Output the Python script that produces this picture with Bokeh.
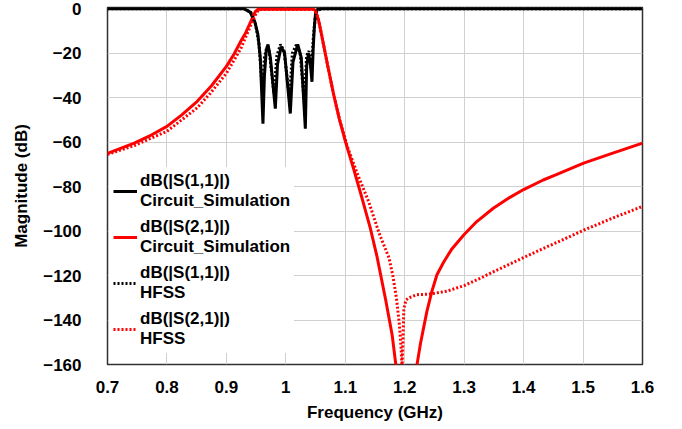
from bokeh.plotting import figure
from bokeh.models import Legend, LegendItem, Range1d, FixedTicker
from bokeh.embed import file_html
from bokeh.resources import INLINE

# ---- data (GHz, dB) ----
s11_circ_f = [0.70, 0.93, 0.940, 0.948, 0.953, 0.957, 0.9615, 0.964, 0.967, 0.970, 0.974,
              0.9823, 0.986, 0.992, 0.998, 1.0075, 1.012, 1.020, 1.026, 1.0328, 1.035,
              1.038, 1.041, 1.044, 1.046, 1.048, 1.050, 1.053, 1.06, 1.60]
s11_circ_db = [0.0, 0.0, -1.5, -6.0, -11.5, -22.0, -51.7, -30.0, -19.0, -16.0, -22.0,
               -44.9, -25.0, -17.0, -20.0, -47.1, -24.0, -16.0, -22.0, -53.9, -26.0,
               -20.0, -24.0, -32.8, -18.0, -8.0, -2.0, -0.3, 0.0, 0.0]

s21_circ_f = [0.70, 0.745, 0.77, 0.80, 0.825, 0.851, 0.875, 0.90, 0.913, 0.924, 0.933,
              0.941, 0.945, 0.949, 0.953,
              1.047, 1.050, 1.055, 1.060, 1.070, 1.080, 1.090, 1.100, 1.114, 1.128,
              1.142, 1.153, 1.168, 1.179, 1.185, 1.19, 1.205, 1.216, 1.2207,
              1.2263, 1.2318, 1.2374, 1.2458, 1.2542, 1.2654, 1.2793, 1.300, 1.3212,
              1.349, 1.377, 1.400, 1.433, 1.455, 1.501, 1.550, 1.600]
s21_circ_db = [-65.0, -60.4, -57.3, -52.9, -47.7, -41.6, -34.6, -25.9, -20.3, -14.7, -10.5,
               -5.7, -3.3, -1.1, -0.2,
               -0.2, -1.0, -5.0, -11.5, -25.0, -38.0, -49.5, -59.5, -72.0, -85.0,
               -98.5, -111.0, -131.0, -147.0, -160.0, -172.0, -190.0, -172.0, -160.0,
               -150.9, -143.4, -136.0, -127.0, -119.6, -114.0, -108.0, -101.5, -95.7,
               -89.7, -84.8, -81.3, -77.0, -74.6, -69.4, -64.9, -60.4]

s11_hfss_f = [0.70, 0.93, 0.941, 0.949, 0.955, 0.960, 0.964, 0.968, 0.972, 0.980, 0.985,
              0.991, 0.997, 1.006, 1.011, 1.018, 1.024, 1.031, 1.035, 1.039, 1.043,
              1.046, 1.049, 1.052, 1.06, 1.60]
s11_hfss_db = [0.0, 0.0, -1.5, -7.0, -16.0, -35.0, -22.0, -17.0, -19.0, -38.0, -21.0,
               -16.0, -19.0, -40.0, -20.0, -16.0, -20.0, -42.0, -21.0, -19.0, -28.0,
               -14.0, -5.0, -0.8, 0.0, 0.0]

s21_hfss_f = [0.70, 0.745, 0.80, 0.851, 0.873, 0.90, 0.924, 0.94, 0.95, 0.955,
              1.046, 1.05, 1.055, 1.060, 1.070, 1.080, 1.090, 1.100, 1.1028, 1.12,
              1.139, 1.157, 1.1735, 1.180, 1.186, 1.191, 1.194, 1.1955, 1.197, 1.1985,
              1.202, 1.207, 1.220, 1.243, 1.271, 1.300, 1.327, 1.349, 1.377, 1.400,
              1.433, 1.455, 1.501, 1.550, 1.600]
s21_hfss_db = [-65.5, -61.5, -55.1, -44.5, -38.0, -29.0, -18.0, -8.0, -2.0, -0.3,
               -0.3, -1.0, -5.0, -11.5, -25.0, -38.0, -49.5, -58.5, -61.5, -74.0,
               -86.5, -101.0, -112.0, -120.0, -130.0, -142.0, -153.0, -162.0, -150.0, -135.0,
               -131.0, -130.0, -128.6, -128.3, -127.0, -124.5, -121.2, -118.3, -114.8, -111.9,
               -107.8, -105.2, -99.6, -94.1, -88.9]

x_ticks = [0.7, 0.8, 0.9, 1.0, 1.1, 1.2, 1.3, 1.4, 1.5, 1.6]
y_ticks = [0, -20, -40, -60, -80, -100, -120, -140, -160]

labels = ["dB(|S(1,1)|)\nCircuit_Simulation", "dB(|S(2,1)|)\nCircuit_Simulation",
          "dB(|S(1,1)|)\nHFSS", "dB(|S(2,1)|)\nHFSS"]

FONT = "Liberation Sans"

p = figure(width=682, height=429, output_backend="svg", toolbar_location=None,
           x_range=Range1d(0.7, 1.6), y_range=Range1d(-160, 0.6),
           min_border_left=107, min_border_right=40, min_border_top=7, min_border_bottom=65)

r1 = p.line(s11_circ_f, s11_circ_db, line_color="black", line_width=3)
r2 = p.line(s21_circ_f, s21_circ_db, line_color="red", line_width=3)
r3 = p.line(s11_hfss_f, s11_hfss_db, line_color="black", line_width=3, line_dash="2 2")
r4 = p.line(s21_hfss_f, s21_hfss_db, line_color="red", line_width=3, line_dash="2 2")

p.xaxis.ticker = FixedTicker(ticks=x_ticks)
p.yaxis.ticker = FixedTicker(ticks=y_ticks)
p.xaxis.major_label_overrides = {0.7: "0.7", 0.8: "0.8", 0.9: "0.9", 1.0: "1", 1.1: "1.1",
                                 1.2: "1.2", 1.3: "1.3", 1.4: "1.4", 1.5: "1.5", 1.6: "1.6"}
for ax in (p.xaxis[0], p.yaxis[0]):
    ax.axis_line_color = None
    ax.major_tick_line_color = None
    ax.minor_tick_line_color = None
    ax.major_label_text_font = FONT
    ax.major_label_text_font_style = "bold"
    ax.major_label_text_font_size = "17px"
    ax.major_label_text_color = "black"
    ax.axis_label_text_font = FONT
    ax.axis_label_text_font_style = "bold"
    ax.axis_label_text_font_size = "17px"
    ax.axis_label_text_color = "black"

p.xaxis.axis_label = "Frequency (GHz)"
p.yaxis.axis_label = "Magnitude (dB)"
p.xaxis.major_label_standoff = 10
p.xaxis.axis_label_standoff = 7
p.yaxis.major_label_standoff = 20
p.yaxis.axis_label_standoff = 9

p.xgrid.grid_line_color = "#d0d0d0"
p.ygrid.grid_line_color = "#d0d0d0"
p.xgrid.ticker = FixedTicker(ticks=x_ticks)
p.ygrid.ticker = FixedTicker(ticks=y_ticks)
p.outline_line_color = "#303030"
p.outline_line_width = 1.5
p.background_fill_color = "white"
p.border_fill_color = "white"

legend = Legend(items=[LegendItem(label=labels[0], renderers=[r1]),
                       LegendItem(label=labels[1], renderers=[r2]),
                       LegendItem(label=labels[2], renderers=[r3]),
                       LegendItem(label=labels[3], renderers=[r4])],
                location=(2, 11))
legend.label_text_font = FONT
legend.label_text_font_style = "bold"
legend.label_text_font_size = "17px"
legend.label_text_color = "black"
legend.border_line_alpha = 0
legend.background_fill_alpha = 1
legend.glyph_width = 24
legend.padding = 4
legend.spacing = 6
legend.margin = 0
legend.label_standoff = 3
p.add_layout(legend)

open("out.html", "w").write(file_html(p, INLINE))
